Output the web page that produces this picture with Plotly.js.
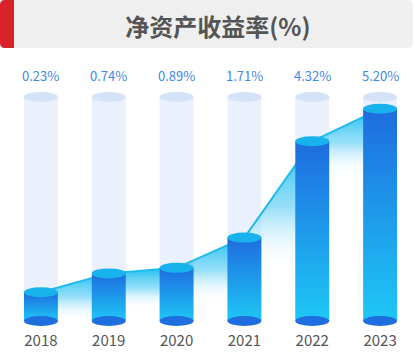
<!DOCTYPE html>
<html>
<head>
<meta charset="utf-8">
<script src="https://cdn.plot.ly/plotly-3.0.1.min.js"></script>
<style>
  html, body { margin: 0; padding: 0; background: #ffffff; }
  #chart { width: 415px; height: 353px; }
</style>
</head>
<body>
<div id="chart"></div>
<script>
// ---- data ----
const categories = ['2018', '2019', '2020', '2021', '2022', '2023'];
const roe = [0.23, 0.74, 0.89, 1.71, 4.32, 5.20];
const roeLabels = roe.map(v => v.toFixed(2) + '%');
const chartTitle = '净资产收益率(%)';

// ---- layout constants ----
const BASE = -0.55;      // visual floor of the cylinders
const TUBE_TOP = 5.52;   // height of pale background tubes
const FADE = 0.95;       // how far below a segment the area gradient fades out
const BAR_W = 0.5;
const FONT = '"Noto Sans CJK SC", "Noto Sans", sans-serif';
const BAR_MARK = 'rgb(1, 2, 3)';

const traces = [];

// pale background tubes (main subplot, lowest)
traces.push({
  type: 'bar', x: categories, y: categories.map(() => TUBE_TOP - BASE), base: BASE,
  width: BAR_W, marker: {color: 'rgb(234,241,252)', line: {width: 0}},
  hoverinfo: 'skip', showlegend: false, xaxis: 'x', yaxis: 'y'
});

// area under the line, one gradient piece per segment
for (let i = 0; i < categories.length - 1; i++) {
  const lo = Math.min(roe[i], roe[i + 1]);
  const hi = Math.max(roe[i], roe[i + 1]);
  traces.push({
    type: 'scatter', mode: 'none',
    x: [categories[i], categories[i + 1], categories[i + 1], categories[i]],
    y: [roe[i], roe[i + 1], BASE, BASE],
    fill: 'toself',
    fillgradient: {
      type: 'vertical', start: Math.max(BASE, lo - FADE), stop: hi,
      colorscale: [[0, 'rgba(255,255,255,0)'], [0.5, 'rgba(95,205,245,0.65)'], [1, 'rgba(30,192,241,1)']]
    },
    hoverinfo: 'skip', showlegend: false, xaxis: 'x', yaxis: 'y'
  });
}

// the line
traces.push({
  type: 'scatter', mode: 'lines', x: categories, y: roe,
  line: {color: 'rgb(30,187,238)', width: 2},
  hoverinfo: 'skip', showlegend: false, xaxis: 'x', yaxis: 'y'
});

// value cylinders (overlay subplot, drawn above line/area)
traces.push({
  type: 'bar', x: categories, y: roe.map(v => v - BASE), base: BASE,
  width: BAR_W, marker: {color: BAR_MARK, line: {width: 0}},
  hoverinfo: 'skip', showlegend: false, xaxis: 'x2', yaxis: 'y2'
});

// ellipse caps
const shapes = [];
categories.forEach((c, i) => {
  const common = {type: 'circle', xref: 'x', yref: 'y', ysizemode: 'pixel',
    x0: i - BAR_W / 2, x1: i + BAR_W / 2, line: {width: 0}, layer: 'above'};
  shapes.push(Object.assign({}, common, {yanchor: TUBE_TOP, y0: -5, y1: 5, fillcolor: 'rgb(212,227,248)'}));
  shapes.push(Object.assign({}, common, {yanchor: BASE, y0: -5, y1: 5, fillcolor: 'rgb(31,110,223)'}));
  shapes.push(Object.assign({}, common, {yanchor: roe[i], y0: -5, y1: 5, fillcolor: 'rgb(24,178,236)'}));
});

// header band (pixel-sized, anchored at plot top-left)
shapes.push({
  type: 'path', xref: 'paper', yref: 'paper', xsizemode: 'pixel', ysizemode: 'pixel',
  xanchor: 0, yanchor: 1, layer: 'below',
  path: 'M -7,12 L 400,12 Q 406,12 406,18 L 406,54 Q 406,60 400,60 L -7,60 Z',
  fillcolor: 'rgb(239,239,239)', line: {width: 0}
});
shapes.push({
  type: 'path', xref: 'paper', yref: 'paper', xsizemode: 'pixel', ysizemode: 'pixel',
  xanchor: 0, yanchor: 1, layer: 'below',
  path: 'M -2,12 Q -7,12 -7,17 L -7,55 Q -7,60 -2,60 L 7,60 L 7,12 Z',
  fillcolor: 'rgb(215,35,40)', line: {width: 0}
});

const annotations = categories.map((c, i) => ({
  x: i, y: 0.944, xref: 'x', yref: 'paper', text: roeLabels[i], showarrow: false,
  xanchor: 'center', yanchor: 'middle',
  font: {family: FONT, size: 13, color: 'rgb(63,136,230)'}
}));

const layout = {
  width: 415, height: 353,
  margin: {l: 7, r: 1, t: 60, b: 23, pad: 0},
  paper_bgcolor: '#ffffff', plot_bgcolor: '#ffffff',
  title: {
    text: '<b>' + chartTitle + '</b>', x: 0.525, xanchor: 'center', y: 0.923, yanchor: 'middle',
    font: {family: FONT, size: 24, color: 'rgb(85,85,85)'}
  },
  xaxis: {
    type: 'category', range: [-0.5, 5.5], showgrid: false, zeroline: false, showline: false,
    ticks: '', tickfont: {family: FONT, size: 15, color: 'rgb(85,85,85)'}, fixedrange: true
  },
  yaxis: {range: [-0.794, 6.523], visible: false, showgrid: false, zeroline: false, fixedrange: true},
  xaxis2: {overlaying: 'x', matches: 'x', visible: false, type: 'category'},
  yaxis2: {overlaying: 'y', matches: 'y', visible: false},
  shapes: shapes,
  annotations: annotations,
  barmode: 'overlay',
  showlegend: false
};

Plotly.newPlot('chart', traces, layout, {staticPlot: true, displayModeBar: false}).then(gd => {
  const svg = gd.querySelector('svg.main-svg');
  let defs = svg.querySelector('defs');
  if (!defs) { defs = document.createElementNS('http://www.w3.org/2000/svg', 'defs'); svg.insertBefore(defs, svg.firstChild); }
  const ns = 'http://www.w3.org/2000/svg';
  const grad = document.createElementNS(ns, 'linearGradient');
  grad.setAttribute('id', 'cylGrad');
  grad.setAttribute('x1', '0'); grad.setAttribute('y1', '0');
  grad.setAttribute('x2', '0'); grad.setAttribute('y2', '1');
  [['0', 'rgb(30,108,223)'], ['1', 'rgb(30,200,246)']].forEach(([o, c]) => {
    const s = document.createElementNS(ns, 'stop');
    s.setAttribute('offset', o); s.setAttribute('stop-color', c);
    grad.appendChild(s);
  });
  defs.appendChild(grad);
  gd.querySelectorAll('path').forEach(p => {
    if (p.style.fill === BAR_MARK) p.style.fill = 'url(#cylGrad)';
  });
});
</script>
</body>
</html>
